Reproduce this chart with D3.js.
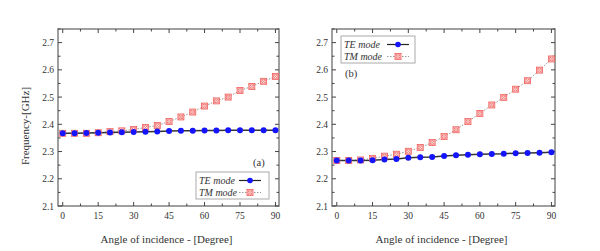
<!DOCTYPE html>
<html>
<head>
<meta charset="utf-8">
<script src="https://cdn.jsdelivr.net/npm/d3@7"></script>
<style>
  body { margin: 0; background: #fff; }
  svg { display: block; font-family: "Liberation Serif", "Times New Roman", serif; }
</style>
</head>
<body>
<svg id="chart" width="600" height="251"></svg>
<script>
// angle of incidence (degree)
const angles = [0, 5, 10, 15, 20, 25, 30, 35, 40, 45, 50, 55, 60, 65, 70, 75, 80, 85, 90];

// panel (a)
const teA = [2.367, 2.367, 2.368, 2.369, 2.370, 2.371, 2.372, 2.373, 2.374, 2.375,
             2.376, 2.376, 2.377, 2.377, 2.378, 2.378, 2.378, 2.378, 2.378];
const tmA = [2.367, 2.367, 2.367, 2.369, 2.373, 2.376, 2.381, 2.388, 2.396, 2.410,
             2.427, 2.445, 2.467, 2.486, 2.500, 2.524, 2.539, 2.558, 2.576];

// panel (b)
const teB = [2.267, 2.267, 2.267, 2.268, 2.271, 2.273, 2.277, 2.279, 2.280, 2.284,
             2.286, 2.288, 2.290, 2.291, 2.292, 2.294, 2.295, 2.296, 2.297];
const tmB = [2.267, 2.267, 2.269, 2.275, 2.283, 2.290, 2.301, 2.315, 2.333, 2.355,
             2.380, 2.410, 2.440, 2.471, 2.499, 2.529, 2.560, 2.599, 2.640];

const xTicks = [0, 15, 30, 45, 60, 75, 90];
const yTicks = [2.1, 2.2, 2.3, 2.4, 2.5, 2.6, 2.7];
const seriesNames = ["TE mode", "TM mode"];

const svg = d3.select("#chart");

function tmMarker(g, x, y) {
  const s = 3;
  const m = g.append("g").attr("transform", `translate(${x},${y})`);
  m.append("rect").attr("x", -s).attr("y", -s).attr("width", 2 * s).attr("height", 2 * s)
    .attr("fill", "#fbd2d2").attr("stroke", "#f0605c").attr("stroke-width", 0.8);
  m.append("circle").attr("r", 1.9).attr("fill", "#fff").attr("stroke", "#f0605c").attr("stroke-width", 0.7);
  m.append("path").attr("d", `M${-s},${-s}L${s},${s}M${-s},${s}L${s},${-s}`)
    .attr("stroke", "#f0605c").attr("stroke-width", 0.6);
}

function drawPanel(opt) {
  const { left, right, top, bottom, te, tm } = opt;
  const x = d3.scaleLinear().domain([-2, 91.5]).range([left, right]);
  const y = d3.scaleLinear().domain([2.1, 2.75]).range([bottom, top]);
  const g = svg.append("g");

  // frame
  g.append("rect").attr("x", left).attr("y", top)
    .attr("width", right - left).attr("height", bottom - top)
    .attr("fill", "none").attr("stroke", "#808080").attr("stroke-width", 1.5);

  // inward ticks on all sides
  const xMinor = d3.range(0, 91, 7.5);
  const yMinor = d3.range(2.1, 2.751, 0.05);
  const tickCol = "#444";
  xMinor.forEach(v => {
    const len = xTicks.includes(v) ? 4 : 2.5;
    g.append("line").attr("x1", x(v)).attr("x2", x(v)).attr("y1", bottom).attr("y2", bottom - len)
      .attr("stroke", tickCol).attr("stroke-width", 1);
    g.append("line").attr("x1", x(v)).attr("x2", x(v)).attr("y1", top).attr("y2", top + len)
      .attr("stroke", tickCol).attr("stroke-width", 1);
  });
  yMinor.forEach((v, i) => {
    const len = i % 2 === 0 ? 4 : 2.5;
    g.append("line").attr("x1", left).attr("x2", left + len).attr("y1", y(v)).attr("y2", y(v))
      .attr("stroke", tickCol).attr("stroke-width", 1);
    g.append("line").attr("x1", right).attr("x2", right - len).attr("y1", y(v)).attr("y2", y(v))
      .attr("stroke", tickCol).attr("stroke-width", 1);
  });

  // tick labels
  g.selectAll(".xl").data(xTicks).enter().append("text")
    .attr("x", d => x(d)).attr("y", bottom + 13)
    .attr("text-anchor", "middle").attr("font-size", 9.5).attr("fill", "#333")
    .text(d => d);
  g.selectAll(".yl").data(yTicks).enter().append("text")
    .attr("x", left - 4).attr("y", d => y(d) + 3.5)
    .attr("text-anchor", "end").attr("font-size", 9.5).attr("fill", "#333")
    .text(d => d.toFixed(1));

  // x axis title
  g.append("text").attr("x", (left + right) / 2 - 2).attr("y", 243)
    .attr("text-anchor", "middle").attr("font-size", 11).attr("fill", "#333")
    .text("Angle of incidence - [Degree]");

  // TM series: dotted line + crossed squares
  const tmLine = d3.line().x((d, i) => x(angles[i])).y(d => y(d));
  g.append("path").datum(tm).attr("d", tmLine)
    .attr("fill", "none").attr("stroke", "#999").attr("stroke-width", 1)
    .attr("stroke-dasharray", "1.5,1.5");
  // TE series: solid line + blue dots
  g.append("path").datum(te).attr("d", tmLine)
    .attr("fill", "none").attr("stroke", "#333").attr("stroke-width", 1.5);
  tm.forEach((v, i) => tmMarker(g, x(angles[i]), y(v)));
  g.selectAll(".te").data(te).enter().append("circle")
    .attr("cx", (d, i) => x(angles[i])).attr("cy", d => y(d)).attr("r", 3)
    .attr("fill", "#1414ff");

  // legend
  const lg = opt.legend;
  g.append("rect").attr("x", lg.x).attr("y", lg.y).attr("width", lg.w).attr("height", 27)
    .attr("fill", "#fff").attr("stroke", "#aaa").attr("stroke-width", 1);
  seriesNames.forEach((name, i) => {
    const ly = lg.y + 8.5 + i * 12;
    g.append("text").attr("x", lg.x + 3).attr("y", ly + 3.5)
      .attr("font-size", 10).attr("font-style", "italic").attr("fill", "#333").text(name);
    const lx0 = lg.x + lg.lineX, lx1 = lx0 + 22;
    if (i === 0) {
      g.append("line").attr("x1", lx0).attr("x2", lx1).attr("y1", ly).attr("y2", ly)
        .attr("stroke", "#222").attr("stroke-width", 1.2);
      g.append("circle").attr("cx", (lx0 + lx1) / 2).attr("cy", ly).attr("r", 2.8).attr("fill", "#1414ff");
    } else {
      g.append("line").attr("x1", lx0).attr("x2", lx1).attr("y1", ly).attr("y2", ly)
        .attr("stroke", "#999").attr("stroke-width", 1).attr("stroke-dasharray", "1.5,1.5");
      tmMarker(g, (lx0 + lx1) / 2, ly);
    }
  });

  g.append("text").attr("x", opt.label.x).attr("y", opt.label.y)
    .attr("font-size", 10.5).attr("fill", "#333").text(opt.label.text);
}

drawPanel({
  left: 58, right: 279, top: 29, bottom: 206, te: teA, tm: tmA,
  legend: { x: 196, y: 172, w: 73, lineX: 43 },
  label: { x: 253, y: 166, text: "(a)" }
});
drawPanel({
  left: 332, right: 555, top: 29, bottom: 206, te: teB, tm: tmB,
  legend: { x: 341, y: 36, w: 74, lineX: 46 },
  label: { x: 345, y: 77, text: "(b)" }
});

// y axis title (left panel only)
svg.append("text")
  .attr("transform", "translate(29,126) rotate(-90)")
  .attr("text-anchor", "middle").attr("font-size", 11).attr("fill", "#333")
  .text("Frequency-[GHz]");
</script>
</body>
</html>
